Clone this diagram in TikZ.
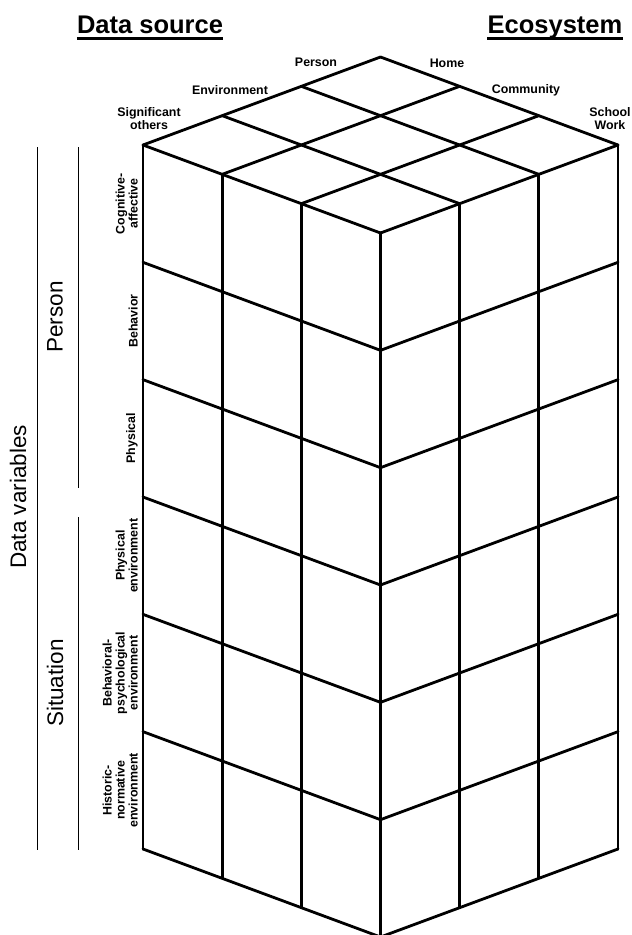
\documentclass[tikz,border=0pt]{standalone}
\usepackage{fontspec}
\setmainfont{Liberation Sans}
\begin{document}
\begin{tikzpicture}[x=1pt,y=-1pt,
  cube/.style={line width=2.8pt, line cap=round, line join=round},
  rule/.style={line width=1pt},
  small/.style={font=\bfseries\fontsize{12.4}{13}\selectfont, inner sep=0pt, align=center},
  big/.style={font=\fontsize{22.5}{26}\selectfont, inner sep=0pt},
  title/.style={font=\bfseries\fontsize{25.5}{30}\selectfont, inner sep=0pt},
  rowlab/.style={small, rotate=90, anchor=south}
]
\useasboundingbox (0,0) rectangle (632,935);
\clip (0,0) rectangle (632,935);

% titles
\node[title, anchor=base] (ds) at (150,33) {Data source};
\node[title, anchor=base] (eco) at (555,33) {Ecosystem};
\draw[line width=2.5pt] ([yshift=-5.5pt]ds.base west) -- ([yshift=-5.5pt]ds.base east);
\draw[line width=2.5pt] ([yshift=-5.5pt]eco.base west) -- ([yshift=-5.5pt]eco.base east);

% cube: top face grid, vertical edges
\foreach \i in {0,1,2,3} {
  \draw[cube] ({380.5-79.1667*\i},{57+29.3333*\i}) -- ++(237.5,88);
  \draw[cube] ({380.5+79.1667*\i},{57+29.3333*\i}) -- ++(-237.5,88);
  \draw[cube] ({143+79.1667*\i},{145+29.3333*\i}) -- ++(0,704);
  \draw[cube] ({380.5+79.1667*\i},{233-29.3333*\i}) -- ++(0,704);
}
% row lines on the side faces
\foreach \k in {1,...,6} {
  \draw[cube] (143,{145+117.3333*\k}) -- ++(237.5,88) -- ++(237.5,-88);
}

% top labels
\node[small] (lperson) at (316,62) {Person};
\node[small] (lenv) at (230,90) {Environment};
\node[small] (lsig) at (149,119) {Significant\\others};
\node[small] (lhome) at (447,63) {Home};
\node[small] (lcomm) at (526,90) {Community};
\node[small] (lschool) at (610,119) {School\\Work};

% left rules
\draw[rule] (37,147) -- (37,850);
\draw[rule] (78,147) -- (78,488);
\draw[rule] (78,517) -- (78,850);

% group labels
\node[big, rotate=90] (dv) at (18,497) {Data variables};
\node[big, rotate=90] (gperson) at (55,317) {Person};
\node[big, rotate=90] (gsit) at (55,683) {Situation};

% row labels
\node[rowlab] (r1) at (138,203.7) {Cognitive-\\affective};
\node[rowlab] (r2) at (138,321) {Behavior};
\node[rowlab] (r3) at (138,438.3) {Physical};
\node[rowlab] (r4) at (138,555.7) {Physical\\environment};
\node[rowlab] (r5) at (138,673) {Behavioral-\\psychological\\environment};
\node[rowlab] (r6) at (138,790.3) {Historic-\\normative\\environment};
\end{tikzpicture}
\end{document}
